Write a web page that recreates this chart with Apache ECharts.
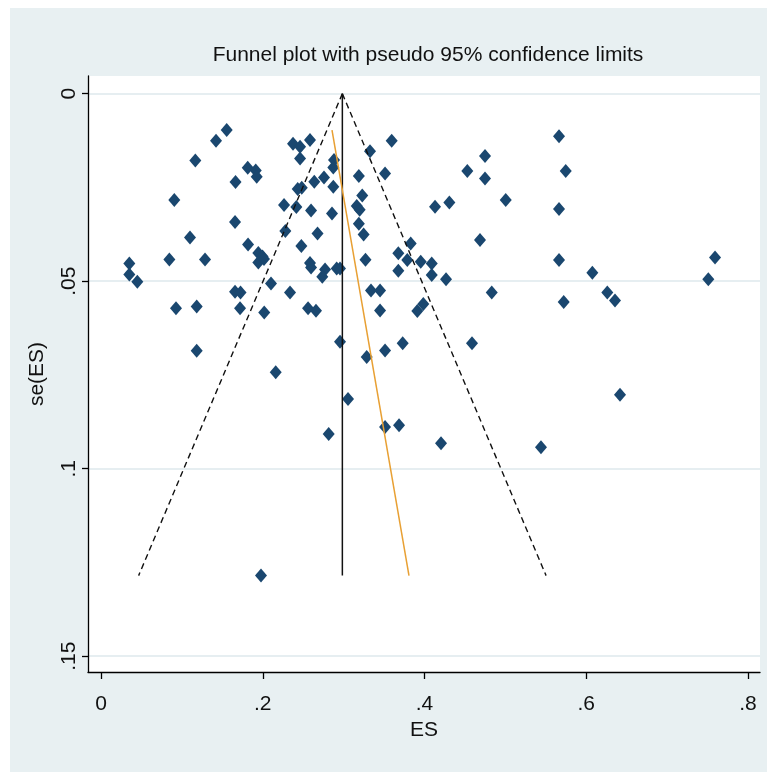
<!DOCTYPE html>
<html><head><meta charset="utf-8">
<script src="https://cdn.jsdelivr.net/npm/echarts@6/dist/echarts.min.js"></script>
<style>html,body{margin:0;padding:0;background:#fff}#c{width:767px;height:772px}</style>
</head><body><div id="c"></div>
<script>
// Study effect sizes (ES) and standard errors se(ES)
const es = [0.1554,0.1422,0.1166,0.0906,0.1814,0.1913,0.1925,0.1663,0.1657,0.1100,
  0.0845,0.1286,0.0350,0.0350,0.0449,0.1818,0.1945,0.1997,0.1945,0.2015,
  0.2102,0.1657,0.1725,0.2337,0.2374,0.2461,0.2461,0.2584,0.2881,0.2872,
  0.2432,0.2482,0.2637,0.2757,0.2872,0.2263,0.2415,0.2597,0.2856,0.2279,
  0.2677,0.2477,0.2584,0.2597,0.2770,0.2736,0.2914,0.2955,0.3326,0.3188,
  0.3230,0.3162,0.3198,0.3188,0.3247,0.3270,0.3338,0.3450,0.3512,0.3594,
  0.4748,0.4529,0.4748,0.5004,0.4130,0.4307,0.4686,0.5663,0.5746,0.5663,
  0.5663,0.6075,0.7592,0.7509,0.3829,0.3676,0.3787,0.3953,0.4089,0.3676,
  0.4089,0.4266,0.4831,0.5721,0.6260,0.6355,0.3985,0.3911,0.3450,0.3512,
  0.3730,0.4587,0.6417,0.3512,0.3685,0.4204,0.5440,0.0927,0.1183,0.1719,
  0.2018,0.2560,0.2658,0.1183,0.2160,0.2955,0.3285,0.3054,0.2815,0.1978];
const se = [0.00973,0.01258,0.01780,0.02838,0.01978,0.02052,0.02217,0.02359,0.03425,0.03833,
  0.04424,0.04424,0.04526,0.04824,0.05016,0.04025,0.04251,0.04344,0.04504,0.04411,
  0.05059,0.05283,0.05304,0.05304,0.01333,0.01418,0.01727,0.01239,0.01772,0.01967,
  0.02545,0.02511,0.02351,0.02239,0.02484,0.02972,0.03025,0.03118,0.03193,0.03665,
  0.03726,0.04065,0.04518,0.04638,0.04691,0.04883,0.04659,0.04659,0.01538,0.02199,
  0.02719,0.02993,0.03094,0.03468,0.03758,0.04427,0.05248,0.05248,0.02127,0.01258,
  0.01666,0.02066,0.02260,0.02838,0.03017,0.02900,0.03905,0.01133,0.02066,0.03078,
  0.04438,0.04776,0.04366,0.04952,0.03993,0.04259,0.04438,0.04483,0.04526,0.04723,
  0.04838,0.04952,0.05299,0.05557,0.05299,0.05517,0.05610,0.05797,0.05784,0.06850,
  0.06658,0.06658,0.08028,0.08889,0.08843,0.09323,0.09430,0.05725,0.05677,0.05725,
  0.05837,0.05725,0.05789,0.06855,0.07431,0.06615,0.07023,0.08142,0.09075,0.1285];

// Reference lines, endpoints [ES, se]
const pooledLine = [[0.2984, 0], [0.2984, 0.1285]];
const ciLower    = [[0.2984, 0], [0.0465, 0.1285]];
const ciUpper    = [[0.2984, 0], [0.5503, 0.1285]];
const fitLine    = [[0.2856, 0.0097], [0.3808, 0.1285]];

// Axes
const xTicks = [0, 0.2, 0.4, 0.6, 0.8];
const xTickLabels = ['0', '.2', '.4', '.6', '.8'];
const yTicks = [0, 0.05, 0.1, 0.15];
const yTickLabels = ['0', '.05', '.1', '.15'];
const xRange = [-0.0161, 0.8148];
const yRange = [-0.0047, 0.1542];

// Use a narrow sans face when one is installed (the reference text is condensed)
function hasFont(name) {
  const c = document.createElement('canvas').getContext('2d');
  const s = 'Funnel plot with pseudo 95% confidence limits';
  c.font = '30px monospace'; const a = c.measureText(s).width;
  c.font = "30px '" + name + "', monospace"; const b = c.measureText(s).width;
  return Math.abs(a - b) > 1;
}
const narrow = hasFont('Liberation Sans Narrow');
const FONT = narrow ? "'Liberation Sans Narrow', 'Liberation Sans', sans-serif"
                    : "'Liberation Sans', Arial, Helvetica, sans-serif";
const SZ = narrow ? {title: 25.5, tick: 23, name: 24} : {title: 21, tick: 21, name: 21};
const TXT = '#111';
function lab(ticks, labels) {
  return v => {
    let best = 0;
    for (let i = 1; i < ticks.length; i++) if (Math.abs(ticks[i] - v) < Math.abs(ticks[best] - v)) best = i;
    return labels[best];
  };
}

const chart = echarts.init(document.getElementById('c'), null, {renderer: 'canvas'});
chart.setOption({
  animation: false,
  backgroundColor: '#ffffff',
  graphic: [{
    type: 'rect', z: -10, silent: true,
    shape: {x: 10, y: 8, width: 757, height: 764},
    style: {fill: '#e8f0f2'}
  }],
  title: {
    text: 'Funnel plot with pseudo 95% confidence limits',
    left: 423, top: narrow ? 38 : 40, textAlign: 'center',
    textStyle: {fontFamily: FONT, fontSize: SZ.title, fontWeight: 'normal', color: TXT}
  },
  grid: {
    left: 88, right: 7, top: 76, bottom: 100,
    show: true, backgroundColor: '#ffffff', borderWidth: 0
  },
  xAxis: {
    type: 'value', min: xRange[0], max: xRange[1],
    name: 'ES', nameLocation: 'middle', nameGap: 45,
    nameTextStyle: {fontFamily: FONT, fontSize: SZ.name, color: TXT},
    axisLine: {show: true, onZero: false, lineStyle: {color: '#000', width: 1.3}},
    axisTick: {show: true, customValues: xTicks, length: 7, lineStyle: {color: '#000', width: 1.3}},
    axisLabel: {customValues: xTicks, formatter: lab(xTicks, xTickLabels), margin: 22,
      fontFamily: FONT, fontSize: SZ.tick, color: TXT},
    splitLine: {show: false}
  },
  yAxis: {
    type: 'value', inverse: true, min: yRange[0], max: yRange[1],
    name: 'se(ES)', nameLocation: 'middle', nameRotate: 90, nameGap: narrow ? 36 : 40,
    nameTextStyle: {fontFamily: FONT, fontSize: SZ.name, color: TXT},
    axisLine: {show: true, onZero: false, lineStyle: {color: '#000', width: 1.3}},
    axisTick: {show: true, customValues: yTicks, length: 6, lineStyle: {color: '#000', width: 1.3}},
    axisLabel: {customValues: yTicks, formatter: lab(yTicks, yTickLabels), rotate: 90, margin: 8,
      fontFamily: FONT, fontSize: SZ.tick, color: TXT},
    splitLine: {show: true, lineStyle: {color: '#e6eef1', width: 2}}
  },
  series: [
    {
      type: 'scatter', name: 'studies', z: 2,
      data: es.map((x, i) => [x, se[i]]),
      symbol: 'diamond', symbolSize: [12, 14],
      itemStyle: {color: '#1a476f', opacity: 1}
    },
    {type: 'line', data: ciLower, z: 3, symbol: 'none', silent: true,
      lineStyle: {color: '#111', width: 1.4, type: [6, 4]}},
    {type: 'line', data: ciUpper, z: 3, symbol: 'none', silent: true,
      lineStyle: {color: '#111', width: 1.4, type: [6, 4]}},
    {type: 'line', data: pooledLine, z: 3, symbol: 'none', silent: true,
      lineStyle: {color: '#111', width: 1.5}},
    {type: 'line', data: fitLine, z: 3, symbol: 'none', silent: true,
      lineStyle: {color: '#e8a033', width: 1.5}}
  ]
});
</script></body></html>
